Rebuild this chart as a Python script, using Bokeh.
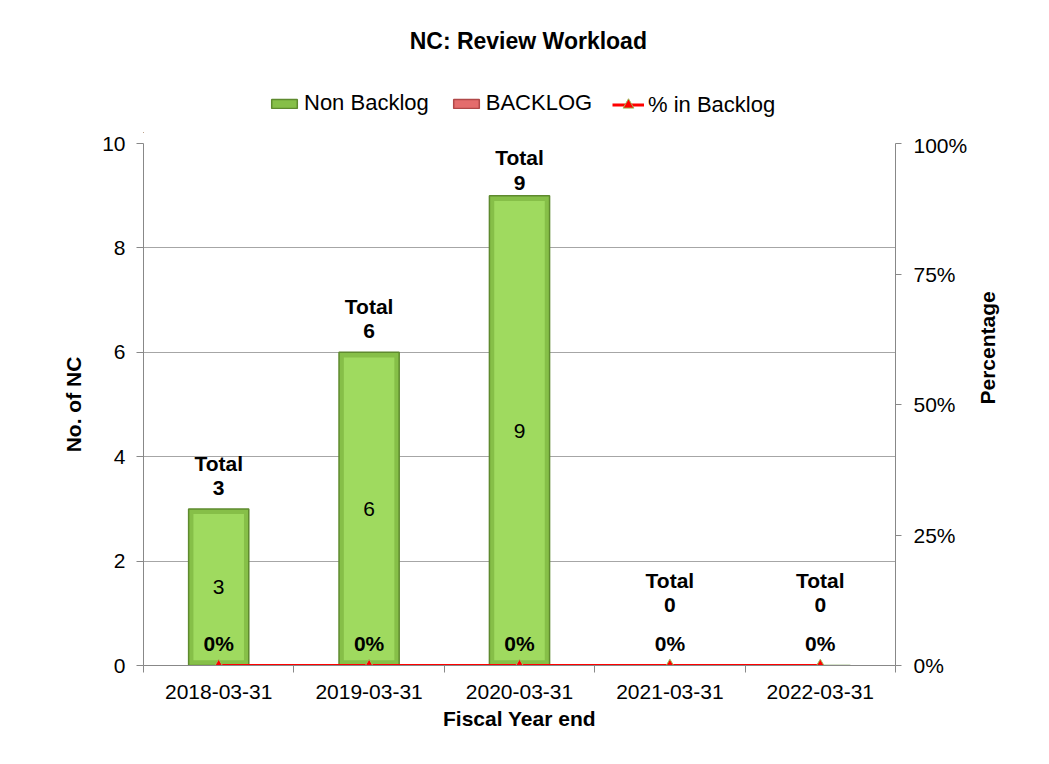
import numpy as np
from bokeh.plotting import figure
from bokeh.layouts import column
from bokeh.models import (ColumnDataSource, Range1d, LinearAxis, FixedTicker,
                          NumeralTickFormatter, Legend, LegendItem, Label)
from bokeh.core.properties import value
from bokeh.embed import file_html
from bokeh.resources import INLINE

# ---- data ----
categories = ["2018-03-31", "2019-03-31", "2020-03-31", "2021-03-31", "2022-03-31"]
non_backlog = [3, 6, 9, 0, 0]
backlog = [0, 0, 0, 0, 0]
pct_backlog = [0.0, 0.0, 0.0, 0.0, 0.0]
left_ticks = [0, 2, 4, 6, 8, 10]
right_ticks = [0, 0.25, 0.5, 0.75, 1.0]
title_text = "NC:  Review Workload"
series_names = ["Non Backlog", "BACKLOG", "% in Backlog"]

FONT = "Liberation Sans"
FS = "21px"
n = len(categories)
xc = np.arange(n) + 0.5
non = np.array(non_backlog, dtype=float)
bkl = np.array(backlog, dtype=float)
total = non + bkl
YMAX = 10

GREEN_EDGE, GREEN_FILL, GREEN_LINE = "#86BF48", "#9FDA5F", "#5E8A2E"
RED_FILL, RED_LINE = "#E46C6C", "#B04848"

W = 1030
HT = 133          # header (title + legend)
HM = 607          # main chart
FL, FR = 143, 895  # plot-area left / right edges
BAR_W = 0.4

src = ColumnDataSource(dict(x=xc, non=non, bot=non, top=total, pct=pct_backlog,
                            tot_num=["%d" % t for t in total],
                            tot_word=["Total"] * n,
                            pct_lbl=["%d%%" % round(v * 100) for v in pct_backlog]))

# ---------------- header figure (title + legend) ----------------
# its ranges do not contain the data, so its renderers only feed the legend swatches
ph = figure(width=W, height=HT, output_backend="svg", toolbar_location=None,
            x_range=Range1d(100, 200), y_range=Range1d(100, 200),
            min_border_left=FL, min_border_right=W - FR, min_border_top=0,
            min_border_bottom=0, x_axis_type=None, y_axis_type=None)
ph.outline_line_color = None
ph.grid.visible = False
ph.background_fill_color = "white"
ph.border_fill_color = "white"
ph.add_layout(Label(x=531 - FL, y=HT - 40, x_units="screen", y_units="screen",
                    text=title_text, text_align="center",
                    text_baseline="middle", text_font=FONT, text_font_size="23px",
                    text_font_style="bold", text_color="black"))
h_non = ph.vbar(x="x", top="non", bottom=0, width=BAR_W, source=src,
                fill_color=GREEN_EDGE, line_color=GREEN_LINE, line_width=1.5)
h_bkl = ph.vbar(x="x", top="top", bottom="bot", width=BAR_W, source=src,
                fill_color=RED_FILL, line_color=RED_LINE, line_width=1.5)
h_line = ph.line(x="x", y="pct", source=src, line_color="#FF0000", line_width=3)
h_mark = ph.scatter(x="x", y="pct", source=src, marker="triangle", size=10,
                    fill_color="#FF0000", line_color="#9BBB59", line_width=1)
leg_style = dict(orientation="horizontal", padding=0, margin=0, label_standoff=4,
                 label_text_font=FONT, label_text_font_size="22px",
                 label_text_color="black", background_fill_alpha=0,
                 border_line_color=None)
legend_a = Legend(items=[LegendItem(label=series_names[0], renderers=[h_non]),
                         LegendItem(label=series_names[1], renderers=[h_bkl])],
                  location=(268 - FL, HT - 116), spacing=21,
                  glyph_width=32, glyph_height=11, **leg_style)
legend_b = Legend(items=[LegendItem(label=series_names[2], renderers=[h_line, h_mark])],
                  location=(612 - FL, HT - 118), spacing=0,
                  glyph_width=32, glyph_height=27, **leg_style)
ph.add_layout(legend_a)
ph.add_layout(legend_b)

# ---------------- main figure ----------------
p = figure(width=W, height=HM, output_backend="svg", toolbar_location=None,
           x_range=Range1d(0, n), y_range=Range1d(0, YMAX),
           min_border_left=FL, min_border_right=W - FR,
           min_border_top=143 - HT, min_border_bottom=HM - (665 - HT))
p.outline_line_color = None
p.background_fill_color = "white"
p.border_fill_color = "white"
p.extra_y_ranges = {"pct": Range1d(0, 1)}

p.xgrid.visible = False
p.ygrid.ticker = FixedTicker(ticks=left_ticks)
p.ygrid.grid_line_color = "#a6a6a6"
p.ygrid.grid_line_width = 1

def style_axis(ax):
    ax.major_label_text_font = FONT
    ax.major_label_text_font_size = FS
    ax.major_label_text_color = "black"
    ax.axis_line_color = "#888888"
    ax.major_tick_line_color = "#888888"
    ax.axis_label_text_font = FONT
    ax.axis_label_text_font_size = FS
    ax.axis_label_text_font_style = "bold"
    ax.axis_label_text_color = "black"

# x axis
xa = p.xaxis[0]
style_axis(xa)
xa.ticker = FixedTicker(ticks=list(xc), minor_ticks=list(np.arange(n + 1)))
xa.major_label_overrides = {float(x): c for x, c in zip(xc, categories)}
xa.major_tick_out = 0
xa.major_tick_in = 0
xa.minor_tick_out = 7
xa.minor_tick_in = 0
xa.minor_tick_line_color = "#888888"
xa.major_label_standoff = 12
xa.axis_label = "Fiscal Year end"
xa.axis_label_standoff = 5

# left axis
ya = p.yaxis[0]
style_axis(ya)
ya.ticker = FixedTicker(ticks=left_ticks)
ya.minor_tick_line_color = None
ya.major_tick_out = 7
ya.major_tick_in = 0
ya.major_label_standoff = 11
ya.axis_label = "No. of NC"
ya.axis_label_standoff = 14

# right axis
ra = LinearAxis(y_range_name="pct", ticker=FixedTicker(ticks=right_ticks),
                formatter=NumeralTickFormatter(format="0%"))
style_axis(ra)
ra.minor_tick_line_color = None
ra.major_tick_out = 6
ra.major_tick_in = 0
ra.major_label_standoff = 12
ra.axis_label = "Percentage"
ra.axis_label_standoff = 17
if "axis_label_orientation" in LinearAxis.properties():
    ra.axis_label_orientation = np.pi / 2
p.add_layout(ra, "right")

# digit line of the "Total" labels, kept inside the plot area
src.data["num_y"] = np.minimum(np.maximum(total, 0.75) + 0.40, YMAX - 0.75)

# bars: darker bevel edge + lighter face
p.vbar(x="x", top="non", bottom=0, width=BAR_W, source=src,
       fill_color=GREEN_EDGE, line_color=GREEN_LINE, line_width=1.5)
mask = non > 0
inset = 0.1  # bevel depth in value units
face_src = ColumnDataSource(dict(x=xc[mask], top=non[mask] - inset,
                                 bottom=np.full(mask.sum(), inset)))
p.vbar(x="x", top="top", bottom="bottom", width=BAR_W * 0.84, source=face_src,
       fill_color=GREEN_FILL, line_color=None)
p.vbar(x="x", top="top", bottom="bot", width=BAR_W, source=src,
       fill_color=RED_FILL, line_color=RED_LINE, line_width=1.5, line_alpha=0)

# inner value labels (only non-zero)
in_src = ColumnDataSource(dict(x=xc[mask], y=non[mask] / 2, t=["%d" % v for v in non[mask]]))
p.text(x="x", y="y", text="t", source=in_src, text_align="center", text_baseline="middle",
       text_font=value(FONT), text_font_size=FS, text_color="black")

# total labels
common = dict(text_align="center", text_baseline="middle", text_font=value(FONT),
              text_font_size=FS, text_font_style="bold", text_color="black")
p.text(x="x", y="num_y", text="tot_num", source=src, **common)
p.text(x="x", y="num_y", text="tot_word", source=src, y_offset=-25, **common)

# percentage line
p.line(x="x", y="pct", source=src, y_range_name="pct", line_color="#FF0000", line_width=3)
mk = p.scatter(x="x", y="pct", source=src, y_range_name="pct", marker="triangle",
               size=11, fill_color="#FF0000", line_color="#9BBB59", line_width=1)

# percentage labels
p.text(x="x", y="pct", text="pct_lbl", source=src, y_range_name="pct",
       y_offset=-22, **common)

layout = column(ph, p, spacing=0)
open("out.html", "w").write(file_html(layout, INLINE))
